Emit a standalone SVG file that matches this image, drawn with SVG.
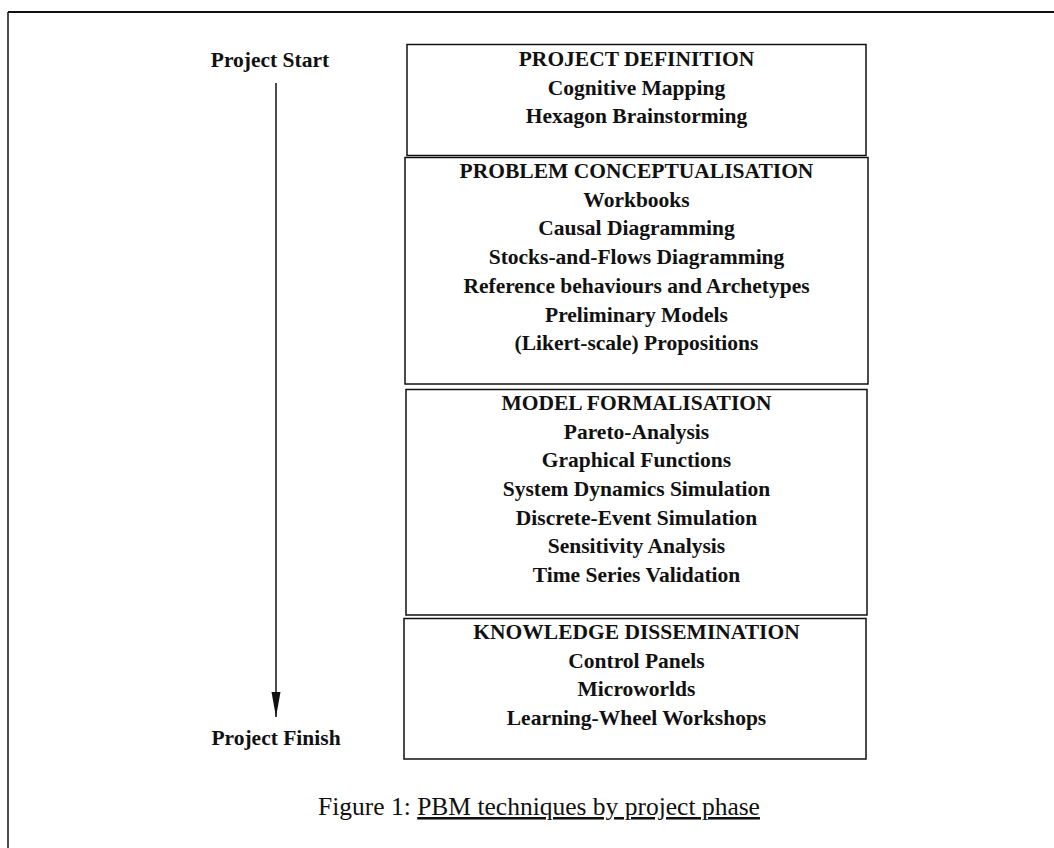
<svg xmlns="http://www.w3.org/2000/svg" width="1054" height="848" viewBox="0 0 1054 848">
  <style>
    .frame { fill: none; stroke: #111; }
    .box { fill: #fff; stroke: #111; stroke-width: 1.5; }
    .t { font-family: "Liberation Serif", "Times New Roman", serif; font-weight: bold; font-size: 21.5px; fill: #111; text-anchor: middle; }
    .cap { font-family: "Liberation Serif", "Times New Roman", serif; font-size: 25.5px; fill: #111; }
    .conn { stroke: #111; stroke-width: 1.5; fill: none; }
  </style>
  <defs>
    <!-- long, narrow filled head; tip sits at the end of the line -->
    <marker id="head" markerUnits="userSpaceOnUse" markerWidth="26" markerHeight="10" refX="25" refY="5" orient="auto" viewBox="0 0 26 10">
      <path d="M0,0.5 L25,5 L0,9.5 Z" fill="#111"/>
    </marker>
  </defs>

  <rect width="1054" height="848" fill="#fff"/>

  <!-- page frame -->
  <path class="frame" d="M8,12 H1054" stroke-width="2"/>
  <path class="frame" d="M8,12 V848" stroke-width="1.5"/>

  <!-- timeline -->
  <g id="timeline-labels">
    <text class="t" x="270" y="67">Project Start</text>
    <text class="t" x="276" y="745">Project Finish</text>
  </g>
  <g id="connectors">
    <line class="conn" x1="276" y1="83" x2="276" y2="717" marker-end="url(#head)"/>
  </g>

  <!-- phase boxes -->
  <g id="project-definition">
    <rect class="box" x="407" y="44.5" width="459" height="111"/>
    <text class="t" x="636.5" y="66">PROJECT DEFINITION</text>
    <text class="t" x="636.5" y="94.7">Cognitive Mapping</text>
    <text class="t" x="636.5" y="123.4">Hexagon Brainstorming</text>
  </g>

  <g id="problem-conceptualisation">
    <rect class="box" x="405" y="157.5" width="463" height="226.5"/>
    <text class="t" x="636.5" y="178">PROBLEM CONCEPTUALISATION</text>
    <text class="t" x="636.5" y="206.7">Workbooks</text>
    <text class="t" x="636.5" y="235.4">Causal Diagramming</text>
    <text class="t" x="636.5" y="264.1">Stocks-and-Flows Diagramming</text>
    <text class="t" x="636.5" y="292.8">Reference behaviours and Archetypes</text>
    <text class="t" x="636.5" y="321.5">Preliminary Models</text>
    <text class="t" x="636.5" y="350">(Likert-scale) Propositions</text>
  </g>

  <g id="model-formalisation">
    <rect class="box" x="406" y="389.5" width="461" height="225.5"/>
    <text class="t" x="636.5" y="410">MODEL FORMALISATION</text>
    <text class="t" x="636.5" y="438.7">Pareto-Analysis</text>
    <text class="t" x="636.5" y="467.3">Graphical Functions</text>
    <text class="t" x="636.5" y="496">System Dynamics Simulation</text>
    <text class="t" x="636.5" y="524.6">Discrete-Event Simulation</text>
    <text class="t" x="636.5" y="553.3">Sensitivity Analysis</text>
    <text class="t" x="636.5" y="582">Time Series Validation</text>
  </g>

  <g id="knowledge-dissemination">
    <rect class="box" x="404" y="618.5" width="462" height="140.5"/>
    <text class="t" x="636.5" y="639">KNOWLEDGE DISSEMINATION</text>
    <text class="t" x="636.5" y="667.7">Control Panels</text>
    <text class="t" x="636.5" y="696.4">Microworlds</text>
    <text class="t" x="636.5" y="725">Learning-Wheel Workshops</text>
  </g>

  <!-- caption -->
  <g id="caption">
    <text class="cap" x="318" y="815">Figure 1: <tspan text-decoration="underline">PBM techniques by project phase</tspan></text>
  </g>
</svg>
